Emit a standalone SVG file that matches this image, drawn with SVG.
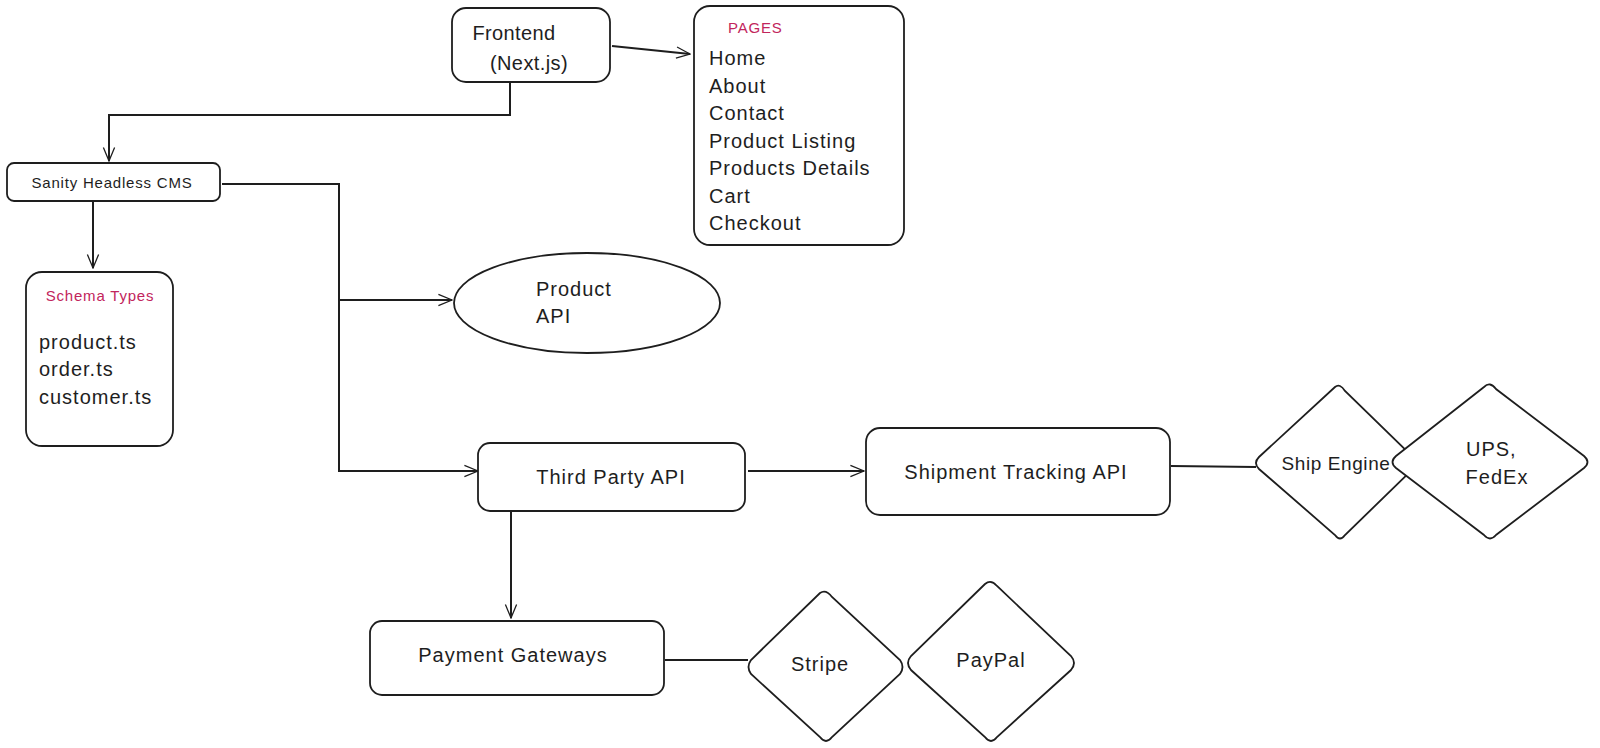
<svg xmlns="http://www.w3.org/2000/svg" width="1600" height="748" viewBox="0 0 1600 748">
<defs>
<marker id="arr" viewBox="0 0 20 20" refX="19" refY="10" markerWidth="16" markerHeight="16" markerUnits="userSpaceOnUse" orient="auto">
<path d="M2,3 L19,10 L2,17" fill="none" stroke="#1e1e1e" stroke-width="1.6"/>
</marker>
<style>
.s{fill:#fff;stroke:#1e1e1e;stroke-width:1.8}
.c{fill:none;stroke:#1e1e1e;stroke-width:2}
.t{font-family:"Liberation Sans",Arial,sans-serif;font-size:20px;fill:#1e1e1e;letter-spacing:1px}
.sm{font-family:"Liberation Sans",Arial,sans-serif;font-size:15px;fill:#1e1e1e;letter-spacing:0.8px}
.pk{fill:#c2255c}
</style>
</defs>
<rect width="1600" height="748" fill="#fff"/>
<g id="connectors">
<path class="c" d="M612,46 L690,54" marker-end="url(#arr)"/>
<path class="c" d="M510,83 L510,115 L109,115 L109,161" marker-end="url(#arr)"/>
<path class="c" d="M222,184 L339,184 L339,472"/>
<path class="c" d="M339,300 L452,300" marker-end="url(#arr)"/>
<path class="c" d="M339,471 L478,471" marker-end="url(#arr)"/>
<path class="c" d="M93,202 L93,268" marker-end="url(#arr)"/>
<path class="c" d="M748,471 L864,471" marker-end="url(#arr)"/>
<path class="c" d="M1171,466 L1256,467"/>
<path class="c" d="M511,512 L511,618" marker-end="url(#arr)"/>
<path class="c" d="M665,660 L748,660"/>
</g>
<g id="frontend">
<rect class="s" x="452" y="8" width="158" height="74" rx="14"/>
<text class="t" x="514" y="40" text-anchor="middle" style="letter-spacing:0.4px">Frontend</text>
<text class="t" x="529" y="70" text-anchor="middle" style="letter-spacing:0.4px">(Next.js)</text>
</g>
<g id="pages">
<rect class="s" x="694" y="6" width="210" height="239" rx="16"/>
<text class="sm pk" x="728" y="33">PAGES</text>
<text class="t" x="709" y="65">Home</text>
<text class="t" x="709" y="93">About</text>
<text class="t" x="709" y="120">Contact</text>
<text class="t" x="709" y="148">Product Listing</text>
<text class="t" x="709" y="175">Products Details</text>
<text class="t" x="709" y="203">Cart</text>
<text class="t" x="709" y="230">Checkout</text>
</g>
<g id="sanity">
<rect class="s" x="7" y="163" width="213" height="38" rx="7"/>
<text class="sm" x="112" y="188" text-anchor="middle">Sanity Headless CMS</text>
</g>
<g id="schema">
<rect class="s" x="26" y="272" width="147" height="174" rx="16"/>
<text class="sm pk" x="100" y="301" text-anchor="middle">Schema Types</text>
<text class="t" x="39" y="349">product.ts</text>
<text class="t" x="39" y="376">order.ts</text>
<text class="t" x="39" y="404">customer.ts</text>
</g>
<g id="product-api">
<ellipse class="s" cx="587" cy="303" rx="133" ry="50"/>
<text class="t" x="536" y="296">Product</text>
<text class="t" x="536" y="323">API</text>
</g>
<g id="third-party">
<rect class="s" x="478" y="443" width="267" height="68" rx="12"/>
<text class="t" x="611" y="484" text-anchor="middle">Third Party API</text>
</g>
<g id="shipment">
<rect class="s" x="866" y="428" width="304" height="87" rx="14"/>
<text class="t" x="1016" y="479" text-anchor="middle">Shipment Tracking API</text>
</g>
<g id="ship-engine">
<path class="s" d="M1335,387 Q1340,383 1345,391 L1413,457 Q1418,463 1413,469 L1345,535 Q1340,542 1335,535 L1259,469 Q1253,463 1259,457 Z"/>
<text class="t" x="1336" y="470" text-anchor="middle" style="font-size:19px;letter-spacing:0.6px">Ship Engine</text>
</g>
<g id="ups-fedex">
<path class="s" d="M1484,387 Q1490,381 1496,389 L1584,456 Q1591,462 1584,468 L1496,535 Q1490,542 1484,535 L1396,468 Q1389,462 1396,456 Z"/>
<text class="t" x="1466" y="456">UPS,</text>
<text class="t" x="1497" y="484" text-anchor="middle">FedEx</text>
</g>
<g id="payment">
<rect class="s" x="370" y="621" width="294" height="74" rx="12"/>
<text class="t" x="513" y="662" text-anchor="middle">Payment Gateways</text>
</g>
<g id="stripe">
<path class="s" d="M820,593 Q826,589 832,597 L900,660 Q905,667 900,674 L832,737 Q826,745 820,737 L751,674 Q746,667 751,660 Z"/>
<text class="t" x="820" y="671" text-anchor="middle">Stripe</text>
</g>
<g id="paypal">
<path class="s" d="M985,584 Q991,579 997,586 L1071,656 Q1077,663 1071,670 L997,737 Q991,745 985,737 L911,670 Q905,663 911,656 Z"/>
<text class="t" x="991" y="667" text-anchor="middle">PayPal</text>
</g>
</svg>
